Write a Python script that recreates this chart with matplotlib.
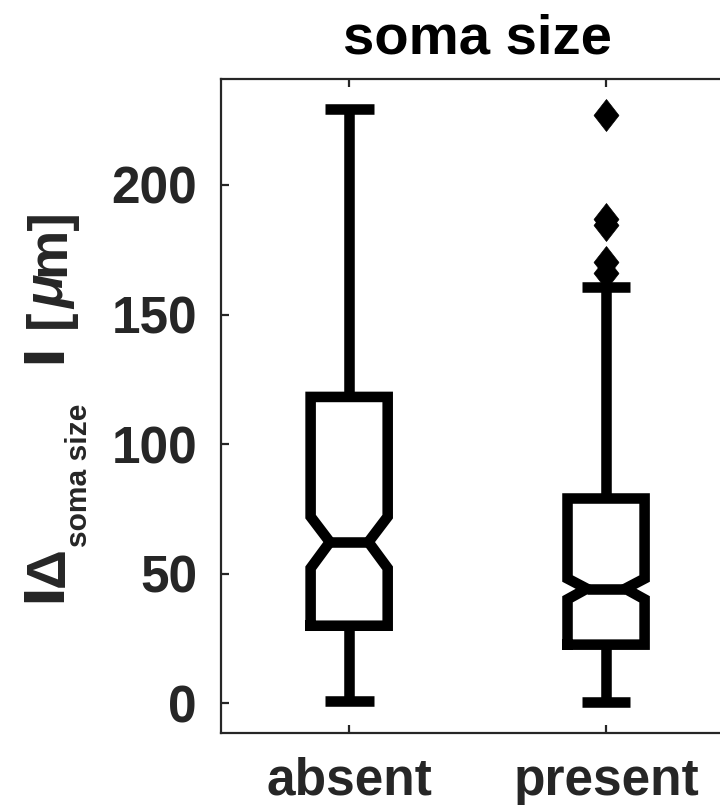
import numpy as np
import matplotlib
matplotlib.use("Agg")
import matplotlib.pyplot as plt
from matplotlib.path import Path
import matplotlib.transforms as mtransforms
import matplotlib.patheffects as pe

# Box statistics per group
groups = ["absent", "present"]
medians = [62.2, 44.2]
q1 = [29.9, 22.6]
q3 = [118.2, 79.0]
ci_low = [52.1, 40.1]
ci_high = [72.0, 48.1]
whisker_low = [1.0, 0.3]
whisker_high = [229.3, 160.6]
outliers_absent = []
outliers_present = [227.0, 186.8, 184.6, 170.4, 165.9]
yticks = [0, 50, 100, 150, 200]

plt.rcParams['font.family'] = ['Liberation Sans', 'DejaVu Sans']
plt.rcParams['font.weight'] = 'bold'

W, H = 720, 805
fig = plt.figure(figsize=(W / 100, H / 100), dpi=100)
ax = fig.add_axes([220.7 / W, (H - 733) / H, 513.8 / W, (733 - 79) / H])

fliers = [outliers_absent, outliers_present]
stats = []
for i, g in enumerate(groups):
    stats.append(dict(label=g, med=medians[i], q1=q1[i], q3=q3[i],
                      cilo=ci_low[i], cihi=ci_high[i],
                      whislo=whisker_low[i], whishi=whisker_high[i],
                      fliers=np.array(fliers[i])))

lw = 7.6
diamond = Path([(0, 1), (0.78, 0), (0, -1), (-0.78, 0), (0, 1)],
               [Path.MOVETO, Path.LINETO, Path.LINETO, Path.LINETO, Path.CLOSEPOLY])
ax.bxp(stats, positions=[1, 2], widths=0.3, capwidths=0.19, shownotches=True,
       boxprops=dict(color='k', lw=lw, solid_joinstyle='miter', solid_capstyle='projecting'),
       whiskerprops=dict(color='k', lw=lw, solid_capstyle='butt'),
       capprops=dict(color='k', lw=lw, solid_capstyle='butt'),
       medianprops=dict(color='k', lw=lw, solid_capstyle='butt'),
       flierprops=dict(marker=diamond, markersize=23, markerfacecolor='k',
                       markeredgecolor='k', markeredgewidth=0.5, linestyle='none'))

ax.set_xlim(0.5, 2.5)
ax.set_ylim(-11.5, 240.9)
ax.set_yticks(yticks)
ax.set_xticks([1, 2])
ax.set_xticklabels(groups)

axis_col = '#262626'
for s in ax.spines.values():
    s.set_linewidth(1.6)
    s.set_color(axis_col)
ax.tick_params(direction='in', length=6, width=1.6, color=axis_col,
               labelcolor=axis_col, labelsize=37, top=True, right=True)
ax.tick_params(axis='x', pad=17)
ax.tick_params(axis='y', pad=17)
for lab in ax.get_xticklabels() + ax.get_yticklabels():
    lab.set_fontweight('bold')

ax.set_title('soma size', fontsize=40.5, fontweight='bold', pad=18.7, color='k')

# Y label assembled from pieces: (text, size, style, baseline shift px, gap before px, bar)
pieces = [("|", 40, 'normal', 0.0, 0.0, True),
          ("Δ", 40, 'normal', 0.0, 2.0, False),
          ("soma size", 21.6, 'normal', 23.0, 0.0, False),
          ("|", 40, 'normal', 0.0, 38.0, True),
          ("[", 40, 'normal', 0.0, 22.0, False),
          ("μ", 40, 'italic', 0.0, 0.0, False),
          ("m]", 40, 'normal', 0.0, 0.0, False)]
base_x = 64.0
em_px = 40 * 100 / 72.0
ident = mtransforms.IdentityTransform()
texts = []
for s, fs, style, shift, gap, bar in pieces:
    t = fig.text(0, 0, s, fontsize=fs, fontstyle=style, fontweight='bold',
                 color=axis_col, rotation=90, rotation_mode='anchor',
                 ha='left', va='baseline', transform=ident)
    if bar:
        # heavier bar spanning baseline to cap height only
        t.set_path_effects([pe.withStroke(linewidth=2.5, foreground=axis_col)])
        t.set_clip_box(mtransforms.Bbox([[base_x - 0.72 * em_px, 0], [base_x, H]]))
    texts.append(t)
fig.canvas.draw()
renderer = fig.canvas.get_renderer()
lengths = [t.get_window_extent(renderer).height for t in texts]
total = sum(lengths) + sum(p[4] for p in pieces)
center_y = H - 406.0
y = center_y - total / 2
for t, p, L in zip(texts, pieces, lengths):
    y += p[4]
    t.set_position((base_x + p[3], y))
    y += L

fig.savefig('out.png', dpi=100)
